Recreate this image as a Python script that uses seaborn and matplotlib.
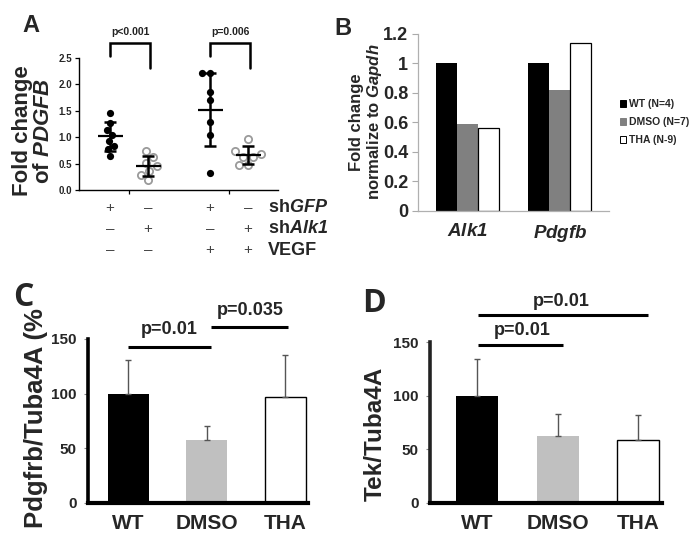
import numpy as np
import pandas as pd
import matplotlib
matplotlib.use("Agg")
import matplotlib.pyplot as plt
import seaborn as sns
from matplotlib.patches import Patch

# ---- data ----
# panel A: fold change of PDGFB, individual replicates
a_shgfp = [1.45, 1.27, 1.14, 1.05, 0.93, 0.84, 0.78, 0.65]
a_shalk1 = [0.73, 0.63, 0.52, 0.45, 0.36, 0.29, 0.18]
a_shgfp_vegf = [2.22, 2.22, 1.86, 1.70, 1.29, 1.05, 0.32]
a_shalk1_vegf = [0.97, 0.73, 0.69, 0.63, 0.62, 0.48, 0.47]
a_pvals = ["p<0.001", "p=0.006"]
a_row_names = ["sh$\\it{GFP}$", "sh$\\it{Alk1}$", "VEGF"]
a_row_shgfp = ["+", "\u2013", "+", "\u2013"]
a_row_shalk1 = ["\u2013", "+", "\u2013", "+"]
a_row_vegf = ["\u2013", "\u2013", "+", "+"]

# panel B: qPCR fold change
b_genes = ["Alk1", "Pdgfb"]
b_groups = ["WT (N=4)", "DMSO (N=7)", "THA (N-9)"]
b_wt = [1.0, 1.0]
b_dmso = [0.59, 0.82]
b_tha = [0.56, 1.14]

# panel C / D: western blot quantification
cd_groups = ["WT", "DMSO", "THA"]
c_mean = [100, 58, 97]
c_err = [31, 12, 38]
d_mean = [100, 62, 59]
d_err = [34, 21, 23]

sns.set_theme(style="white")
plt.rcParams['font.family'] = ['Liberation Sans', 'DejaVu Sans']
plt.rcParams['font.weight'] = 'bold'
plt.rcParams['axes.labelweight'] = 'bold'
plt.rcParams['mathtext.fontset'] = 'custom'
plt.rcParams['mathtext.it'] = 'Liberation Sans:italic:bold'
plt.rcParams['mathtext.rm'] = 'Liberation Sans:italic:bold'
plt.rcParams['mathtext.bf'] = 'Liberation Sans:bold'

fig = plt.figure(figsize=(6.98, 5.5), dpi=100)
W, H = 698, 550


def px_axes(left, right, top, bottom):
    return fig.add_axes([left / W, 1 - bottom / H, (right - left) / W, (bottom - top) / H])


# ================= panel A =================
axA = px_axes(79, 278, 58, 190)
a_values = [a_shgfp, a_shalk1, a_shgfp_vegf, a_shalk1_vegf]
a_pos = [i // 2 + (-0.19 if i % 2 == 0 else 0.19) for i in range(4)]
rows = []
for i, vals in enumerate(a_values):
    for v in vals:
        rows.append({"pos": a_pos[i], "value": v, "filled": i % 2 == 0})
dfA = pd.DataFrame(rows)

sns.swarmplot(data=dfA[dfA.filled], x="pos", y="value", native_scale=True,
              orient="v", color="black", size=5.2, linewidth=0, ax=axA)
sns.swarmplot(data=dfA[~dfA.filled], x="pos", y="value", native_scale=True,
              orient="v", color="white", edgecolor="#9a9a9a", linewidth=1.3,
              size=5.2, ax=axA)

for p, vals in zip(a_pos, a_values):
    m = np.mean(vals)
    s = np.std(vals, ddof=1)
    axA.errorbar(p, m, yerr=s, fmt="none", ecolor="black", elinewidth=1.8,
                 capsize=4.5, capthick=1.8, zorder=5)
    axA.hlines(m, p - 0.125, p + 0.125, color="black", lw=1.6, zorder=5)

for k, txt in enumerate(a_pvals):
    l, r = a_pos[2 * k], a_pos[2 * k + 1] + 0.02
    axA.plot([l, l, r, r], [2.54, 2.78, 2.78, 2.31], color="black", lw=1.8,
             clip_on=False, solid_joinstyle="miter")
    axA.text((l + r) / 2, 3.0, txt, ha="center", va="center", fontsize=7.5,
             color="#222222")

axA.set_xlim(-0.5, 1.49)
axA.set_ylim(0, 2.5)
axA.set_yticks(np.arange(0, 2.51, 0.5))
axA.set_yticklabels([f"{t:.1f}" for t in np.arange(0, 2.51, 0.5)], fontsize=7)
axA.set_xticks([0, 1])
axA.set_xticklabels([])
axA.set_xlabel("")
axA.set_ylabel("Fold change\nof $\\it{PDGFB}$", fontsize=16, linespacing=1.0)
axA.yaxis.set_label_coords(-0.128, 0.447)
axA.tick_params(axis="both", direction="out", length=3, width=0.9, color="black",
                left=True, bottom=True, pad=2)
sns.despine(ax=axA)
for sp in ["left", "bottom"]:
    axA.spines[sp].set_color("black")
    axA.spines[sp].set_linewidth(1.0)

tr = axA.get_xaxis_transform()
for row_syms, yy in zip([a_row_shgfp, a_row_shalk1, a_row_vegf], [-0.136, -0.295, -0.455]):
    for p, sym in zip(a_pos, row_syms):
        axA.text(p, yy, sym, transform=tr, ha="center", va="center", fontsize=11,
                 fontweight="normal", color="#444444")
for name, yy in zip(a_row_names, [-0.136, -0.295, -0.455]):
    axA.text(1.39, yy, name, transform=tr, ha="left", va="center", fontsize=13)

# ================= panel B =================
axB = px_axes(418, 609, 34, 211)
dfB = pd.DataFrame({
    "gene": b_genes * 3,
    "group": [g for g in b_groups for _ in b_genes],
    "value": b_wt + b_dmso + b_tha,
})
b_colors = ["black", "#808080", "white"]
sns.barplot(data=dfB, x="gene", y="value", hue="group", palette=b_colors,
            width=0.68, linewidth=0, legend=False, ax=axB)
for bar in axB.containers[2]:
    bar.set_edgecolor("black")
    bar.set_linewidth(0.9)
axB.set_xlim(-0.53, 1.53)
axB.set_ylim(0, 1.2)
b_ticks = [0, 0.2, 0.4, 0.6, 0.8, 1.0, 1.2]
axB.set_yticks(b_ticks)
axB.set_yticklabels([f"{t:g}" for t in b_ticks], fontsize=13)
axB.set_xticks(range(len(b_genes)))
axB.set_xticklabels([f"$\\it{{{g}}}$" for g in b_genes], fontsize=13.5)
axB.set_xlabel("")
axB.set_ylabel("Fold change\nnormalize to $\\it{Gapdh}$", fontsize=12, linespacing=1.05)
axB.yaxis.set_label_coords(-0.178, 0.503)
axB.tick_params(axis="y", direction="out", length=4, width=0.8, color="#aaaaaa",
                left=True, pad=3)
axB.tick_params(axis="x", length=0, pad=9)
sns.despine(ax=axB)
for sp in ["left", "bottom"]:
    axB.spines[sp].set_color("#b0b0b0")
    axB.spines[sp].set_linewidth(0.9)
handles = [Patch(facecolor=c, edgecolor="black" if c == "white" else c, linewidth=0.7)
           for c in b_colors]
leg = fig.legend(handles, b_groups, loc="center left", bbox_to_anchor=(0.888, 0.778),
                 frameon=False, fontsize=7.5, handlelength=0.6, handleheight=0.6,
                 handletextpad=0.3, labelspacing=0.75, borderpad=0, borderaxespad=0)


# ================= panels C / D =================
def bar_panel(ax, means, errs, xlim, ylabel, lab_size, lab_xy, left_color):
    df = pd.DataFrame({"group": cd_groups, "value": means})
    sns.barplot(data=df, x="group", y="value", hue="group",
                palette=["black", "#c0c0c0", "white"], width=0.52,
                linewidth=0, legend=False, ax=ax)
    bars = ax.patches
    bars[2].set_edgecolor("black")
    bars[2].set_linewidth(1.0)
    ax.errorbar(range(len(means)), means, yerr=[[0] * len(errs), errs], fmt="none",
                ecolor="#555555", elinewidth=1.0, capsize=2.5, capthick=1.0, zorder=4)
    ax.set_xlim(*xlim)
    ax.set_ylim(0, 150)
    ax.set_yticks([0, 50, 100, 150])
    ax.set_yticklabels(["0", "50", "100", "150"], fontsize=11)
    ax.set_xlabel("")
    ax.set_ylabel(ylabel, fontsize=lab_size)
    ax.yaxis.set_label_coords(*lab_xy)
    ax.tick_params(axis="x", length=0, pad=8, labelsize=15)
    ax.tick_params(axis="y", direction="out", length=3, width=0.8, color="#888888",
                   left=True, pad=5)
    sns.despine(ax=ax)
    ax.spines["left"].set_color(left_color)
    ax.spines["left"].set_linewidth(2.6)
    ax.spines["bottom"].set_color("black")
    ax.spines["bottom"].set_linewidth(3.0)


def sig_line(ax, x0, x1, y, txt, tx, ty):
    ax.plot([x0, x1], [y, y], color="black", lw=2.2, clip_on=False,
            solid_capstyle="butt")
    ax.text(tx, ty, txt, ha="center", va="center", fontsize=13)


axC = px_axes(88, 308, 339, 503)
bar_panel(axC, c_mean, c_err, (-0.51, 2.29), "Pdgfrb/Tuba4A (%", 18.5,
          (-0.182, 0.52), "black")
sig_line(axC, 0.0, 1.05, 142.7, "p=0.01", 0.53, 159)
sig_line(axC, 1.05, 2.04, 161, "p=0.035", 1.55, 175.7)

axD = px_axes(430, 662, 342, 503)
bar_panel(axD, d_mean, d_err, (-0.59, 2.3), "Tek/Tuba4A", 17.5,
          (-0.185, 0.43), "#222222")
sig_line(axD, 0.01, 1.07, 147, "p=0.01", 0.56, 161)
sig_line(axD, 0.01, 2.12, 175, "p=0.01", 1.04, 188)

# ---- panel letters ----
fig.text(22 / W, 1 - 32 / H, "A", fontsize=17, fontweight="bold", ha="left", va="baseline")
fig.text(334 / W, 1 - 35 / H, "B", fontsize=17, fontweight="bold", ha="left", va="baseline")
fig.text(13 / W, 1 - 306 / H, "C", fontsize=23, fontweight="bold", ha="left",
         va="baseline", family=["Open Sans", "DejaVu Sans"])
fig.text(362 / W, 1 - 312 / H, "D", fontsize=23, fontweight="bold", ha="left",
         va="baseline", family=["Open Sans", "DejaVu Sans"])

fig.savefig("out.png", dpi=100)
